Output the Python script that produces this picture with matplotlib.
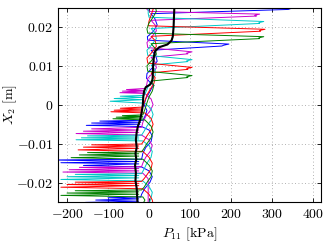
"""Stress profile P11 over X2: five snapshots plus their mean."""

import matplotlib as mpl
import matplotlib.pyplot as plt
from matplotlib.ticker import FuncFormatter

# vertices, listed from top (X2 = 0.025) to bottom
blue_p11 = [3, 356, 345, 340, 4, 14, 20, 10, -4, -3, 195, 182, 178, 5, 16, 20, 8, -5, -6, 2, 12, 8,
            0, -8, -12, -5, -10, -15, -120, -20, -140, -22, -153, -18,
            0, 8, 5, -8, -15, -18, -235, -25, -215, -25, -160, -18,
            0, 8, 2, -10, -18, -20, -100, -25, -130, -25, -155, -20]
blue_x2 = [0.0255, 0.0250, 0.0247, 0.0245, 0.0234, 0.0222, 0.0205, 0.0188, 0.0175, 0.0166,
           0.0156, 0.0153, 0.0151, 0.0140, 0.0128, 0.0112, 0.0095, 0.0080, 0.0068, 0.0058,
           0.0050, 0.0045, 0.0030, 0.0015, 0.0, -0.0015, -0.0030, -0.0040,
           -0.0042, -0.0045, -0.0047, -0.0050, -0.0053, -0.0056,
           -0.0065, -0.0080, -0.0095, -0.0110, -0.0125, -0.0140,
           -0.0142, -0.0146, -0.0149, -0.0152, -0.0156, -0.0160,
           -0.0170, -0.0185, -0.0200, -0.0215, -0.0230, -0.0237,
           -0.0239, -0.0242, -0.0245, -0.0248, -0.0251, -0.0255]

magenta_p11 = [-3, -5, 2, 270, 258, 262, 5, 15, 18, 5, -5, -3, 105, 92, 95, 5,
               15, 18, 8, -3, -5, -8, -55, -15, -65, -15, -71, -10,
               5, 10, 3, -8, -15, -18, -140, -25, -160, -25, -178, -18,
               0, 8, 3, -8, -15, -18, -170, -25, -195, -25, -210, -15,
               -2, -2, -2, -2]
magenta_x2 = [0.0255, 0.0245, 0.0240, 0.0233, 0.0230, 0.0228, 0.0217, 0.0205, 0.0190, 0.0172,
              0.0160, 0.0147, 0.0136, 0.0133, 0.0131, 0.0122,
              0.0110, 0.0095, 0.0080, 0.0068, 0.0055, 0.0042,
              0.0039, 0.0037, 0.0035, 0.0033, 0.0031, 0.0029,
              0.0015, 0.0, -0.0015, -0.0030, -0.0045, -0.0058,
              -0.0062, -0.0065, -0.0068, -0.0071, -0.0074, -0.0078,
              -0.0090, -0.0105, -0.0120, -0.0135, -0.0150, -0.0159,
              -0.0161, -0.0164, -0.0167, -0.0170, -0.0173, -0.0176,
              -0.0190, -0.0210, -0.0230, -0.0255]

cyan_p11 = [-2, -2, 0, 280, 268, 270, 5, 15, 18, 5, -5, -3, 105, 92, 95, 5,
            15, 15, 5, -3, -8, -12, -70, -15, -85, -15, -95, -10,
            5, 10, 5, -5, -12, -18, -150, -25, -165, -25, -178, -15,
            0, 8, 5, -5, -12, -18, -180, -25, -200, -25, -215, -15,
            0, 8, 5, 0]
cyan_x2 = [0.0255, 0.0235, 0.0225, 0.0214, 0.0211, 0.0209, 0.0196, 0.0185, 0.0170, 0.0152,
           0.0140, 0.0127, 0.0116, 0.0113, 0.0111, 0.0102,
           0.0090, 0.0075, 0.0060, 0.0045, 0.0032, 0.0024,
           0.0022, 0.0019, 0.0016, 0.0013, 0.0009, 0.0004,
           -0.0010, -0.0025, -0.0040, -0.0055, -0.0068, -0.0078,
           -0.0080, -0.0083, -0.0085, -0.0088, -0.0090, -0.0093,
           -0.0105, -0.0120, -0.0135, -0.0150, -0.0165, -0.0177,
           -0.0179, -0.0182, -0.0185, -0.0188, -0.0192, -0.0196,
           -0.0210, -0.0225, -0.0240, -0.0255]

red_p11 = [5, 10, 5, 0, -2, 283, 270, 272, 5, 15, 18, 5, -5, -3, 105, 92, 95, 5,
           15, 12, 3, -5, -10, -15, -70, -15, -85, -15, -93, -10,
           5, 10, 5, -5, -12, -18, -140, -25, -160, -25, -173, -15,
           0, 8, 5, -5, -12, -18, -180, -25, -200, -25, -215, -15,
           0, 8, 10]
red_x2 = [0.0255, 0.0245, 0.0230, 0.0215, 0.0203, 0.0194, 0.0191, 0.0189, 0.0176,
          0.0165, 0.0150, 0.0132, 0.0120, 0.0107, 0.0096, 0.0093, 0.0091, 0.0082,
          0.0070, 0.0055, 0.0040, 0.0025, 0.0010, -0.0006,
          -0.0009, -0.0011, -0.0014, -0.0016, -0.0018, -0.0021,
          -0.0035, -0.0050, -0.0065, -0.0080, -0.0092, -0.0101,
          -0.0103, -0.0106, -0.0109, -0.0112, -0.0116, -0.0120,
          -0.0135, -0.0150, -0.0165, -0.0180, -0.0190, -0.0197,
          -0.0199, -0.0202, -0.0205, -0.0208, -0.0212, -0.0216,
          -0.0230, -0.0245, -0.0255]

green_p11 = [15, 18, 10, 0, -5, -3, 280, 268, 270, 5, 15, 18, 5, -5, -3, 105, 92, 95, 5,
             12, 8, 0, -5, -10, -15, -65, -15, -80, -15, -88, -10,
             5, 10, 5, -5, -12, -18, -150, -25, -170, -25, -190, -15,
             0, 8, 5, -5, -12, -18, -180, -25, -200, -25, -215, -15,
             -10, -15]
green_x2 = [0.0255, 0.0240, 0.0225, 0.0210, 0.0195, 0.0184, 0.0175, 0.0172, 0.0170, 0.0157,
            0.0145, 0.0130, 0.0112, 0.0100, 0.0086, 0.0075, 0.0072, 0.0070, 0.0061,
            0.0050, 0.0035, 0.0020, 0.0005, -0.0012, -0.0026,
            -0.0028, -0.0030, -0.0032, -0.0034, -0.0036, -0.0039,
            -0.0055, -0.0070, -0.0085, -0.0100, -0.0112, -0.0121,
            -0.0123, -0.0126, -0.0129, -0.0132, -0.0136, -0.0140,
            -0.0155, -0.0170, -0.0185, -0.0200, -0.0212, -0.0219,
            -0.0221, -0.0224, -0.0227, -0.0230, -0.0233, -0.0237,
            -0.0245, -0.0255]

mean_p11 = [62, 60, 58, 55, 45, 25, 15, 12, 10, 9, 8, 3, -8, -12, -14, -15, -18, -22,
            -27, -30, -32, -30, -33, -31, -34, -32, -33, -30, -29, -28]
mean_x2 = [0.0255, 0.0200, 0.0175, 0.0165, 0.0155, 0.0148, 0.0138, 0.0125, 0.0100, 0.0070,
           0.0062, 0.0052, 0.0045, 0.0035, 0.0020, 0.0, -0.0020, -0.0040,
           -0.0055, -0.0070, -0.0090, -0.0110, -0.0125, -0.0140, -0.0155, -0.0175,
           -0.0195, -0.0215, -0.0235, -0.0255]

x_ticks = [-200, -100, 0, 100, 200, 300, 400]
y_ticks = [-0.02, -0.01, 0, 0.01, 0.02]

BLUE = "#0000ff"
MAGENTA = "#cc00cc"
CYAN = "#00c8c8"
RED = "#ff0000"
GREEN = "#008000"


def setup() -> None:
    mpl.rcParams.update(
        {
            "mathtext.fontset": "cm",
            "font.family": "serif",
            "font.size": 10,
            "axes.linewidth": 0.8,
            "xtick.direction": "in",
            "ytick.direction": "in",
            "xtick.top": True,
            "ytick.right": True,
            "xtick.major.size": 3,
            "ytick.major.size": 3,
            "xtick.major.width": 0.6,
            "ytick.major.width": 0.6,
        }
    )


def math_label(value, _pos) -> str:
    return rf"${value:g}$"


def main() -> None:
    setup()
    fig = plt.figure(figsize=(3.26, 2.5), dpi=100)
    axis = fig.add_axes([0.178, 0.192, 0.807, 0.778])
    for p11, x2, color in (
        (blue_p11, blue_x2, BLUE),
        (magenta_p11, magenta_x2, MAGENTA),
        (cyan_p11, cyan_x2, CYAN),
        (red_p11, red_x2, RED),
        (green_p11, green_x2, GREEN),
    ):
        axis.plot(p11, x2, color=color, linewidth=0.7)
    axis.plot(mean_p11, mean_x2, color="black", linewidth=1.5, zorder=5)
    axis.set_xlim(-222, 420)
    axis.set_ylim(-0.025, 0.025)
    axis.set_xticks(x_ticks)
    axis.set_yticks(y_ticks)
    axis.xaxis.set_major_formatter(FuncFormatter(math_label))
    axis.yaxis.set_major_formatter(FuncFormatter(math_label))
    axis.grid(True, color="#999999", linestyle=(0, (1, 3)), linewidth=0.6)
    axis.set_xlabel(r"$P_{11}\ \mathrm{[kPa]}$", labelpad=3)
    axis.set_ylabel(r"$X_2\ \mathrm{[m]}$")
    axis.yaxis.set_label_coords(-0.15, 0.5)
    fig.savefig("out.png", dpi=100, facecolor="white")
    plt.close(fig)


if __name__ == "__main__":
    main()
